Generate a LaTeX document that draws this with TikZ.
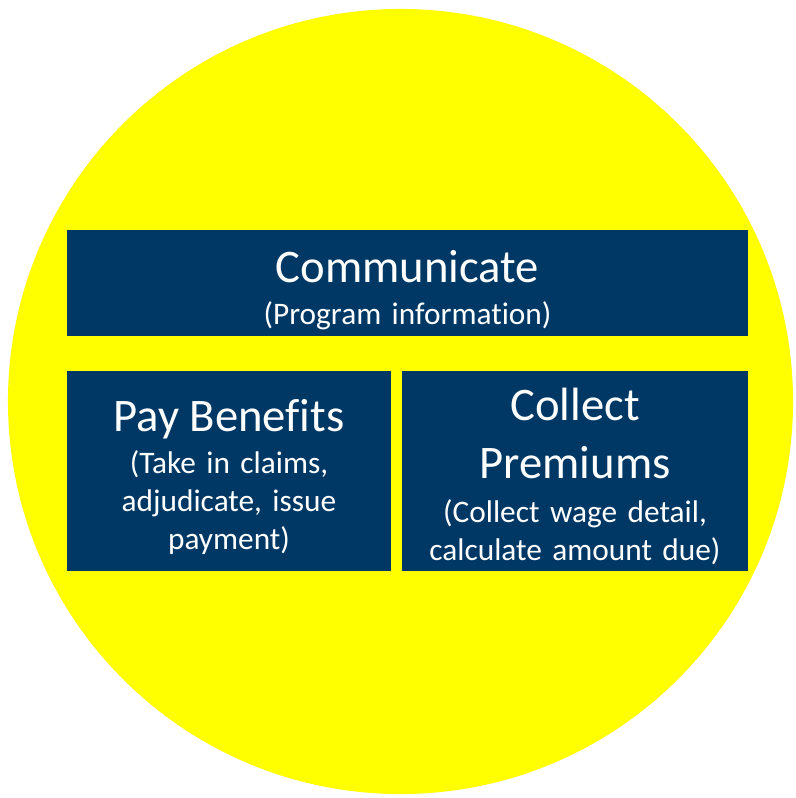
\documentclass[tikz,border=0pt]{standalone}
\usepackage{fontspec}
\setmainfont{Carlito}[Ligatures=NoCommon]
\definecolor{navy}{RGB}{0,56,101}
\definecolor{sunyellow}{RGB}{255,255,0}
\newcommand{\panelhead}{\fontsize{35}{43.5}\selectfont}
\newcommand{\panelnote}{\fontsize{23.5}{28.5}\selectfont}

\begin{document}
\begin{tikzpicture}[x=0.75pt,y=-0.75pt,
  panel/.style={fill=navy, inner sep=0pt},
  paneltext/.style={text=white, align=center, inner sep=0pt, font=\panelnote}]
\useasboundingbox (0,0) rectangle (795,798);
\fill [sunyellow] (400.5,401.5) circle [radius=294.4pt];
\node [panel, minimum width=510.75pt, minimum height=79.5pt] (comm) at (407.5,283) {};
\node [panel, minimum width=243pt, minimum height=150pt] (pay) at (229,471) {};
\node [panel, minimum width=259.5pt, minimum height=150pt] (collect) at (575,471) {};
\node [paneltext, text width=500pt] (commtext) at (407.5,290)
  {\panelhead Communicate\par\vspace{3pt}\panelnote (Program information)};
\node [paneltext, text width=235pt] (paytext) at (229,476.5)
  {\panelhead Pay Benefits\par\vspace{3pt}\panelnote (Take in claims,\\ adjudicate, issue\\ payment)};
\node [paneltext, text width=250pt] (collecttext) at (575,476.5)
  {\panelhead Collect\\ Premiums\par\vspace{5pt}\panelnote (Collect wage detail,\\ calculate amount due)};
\end{tikzpicture}
\end{document}
